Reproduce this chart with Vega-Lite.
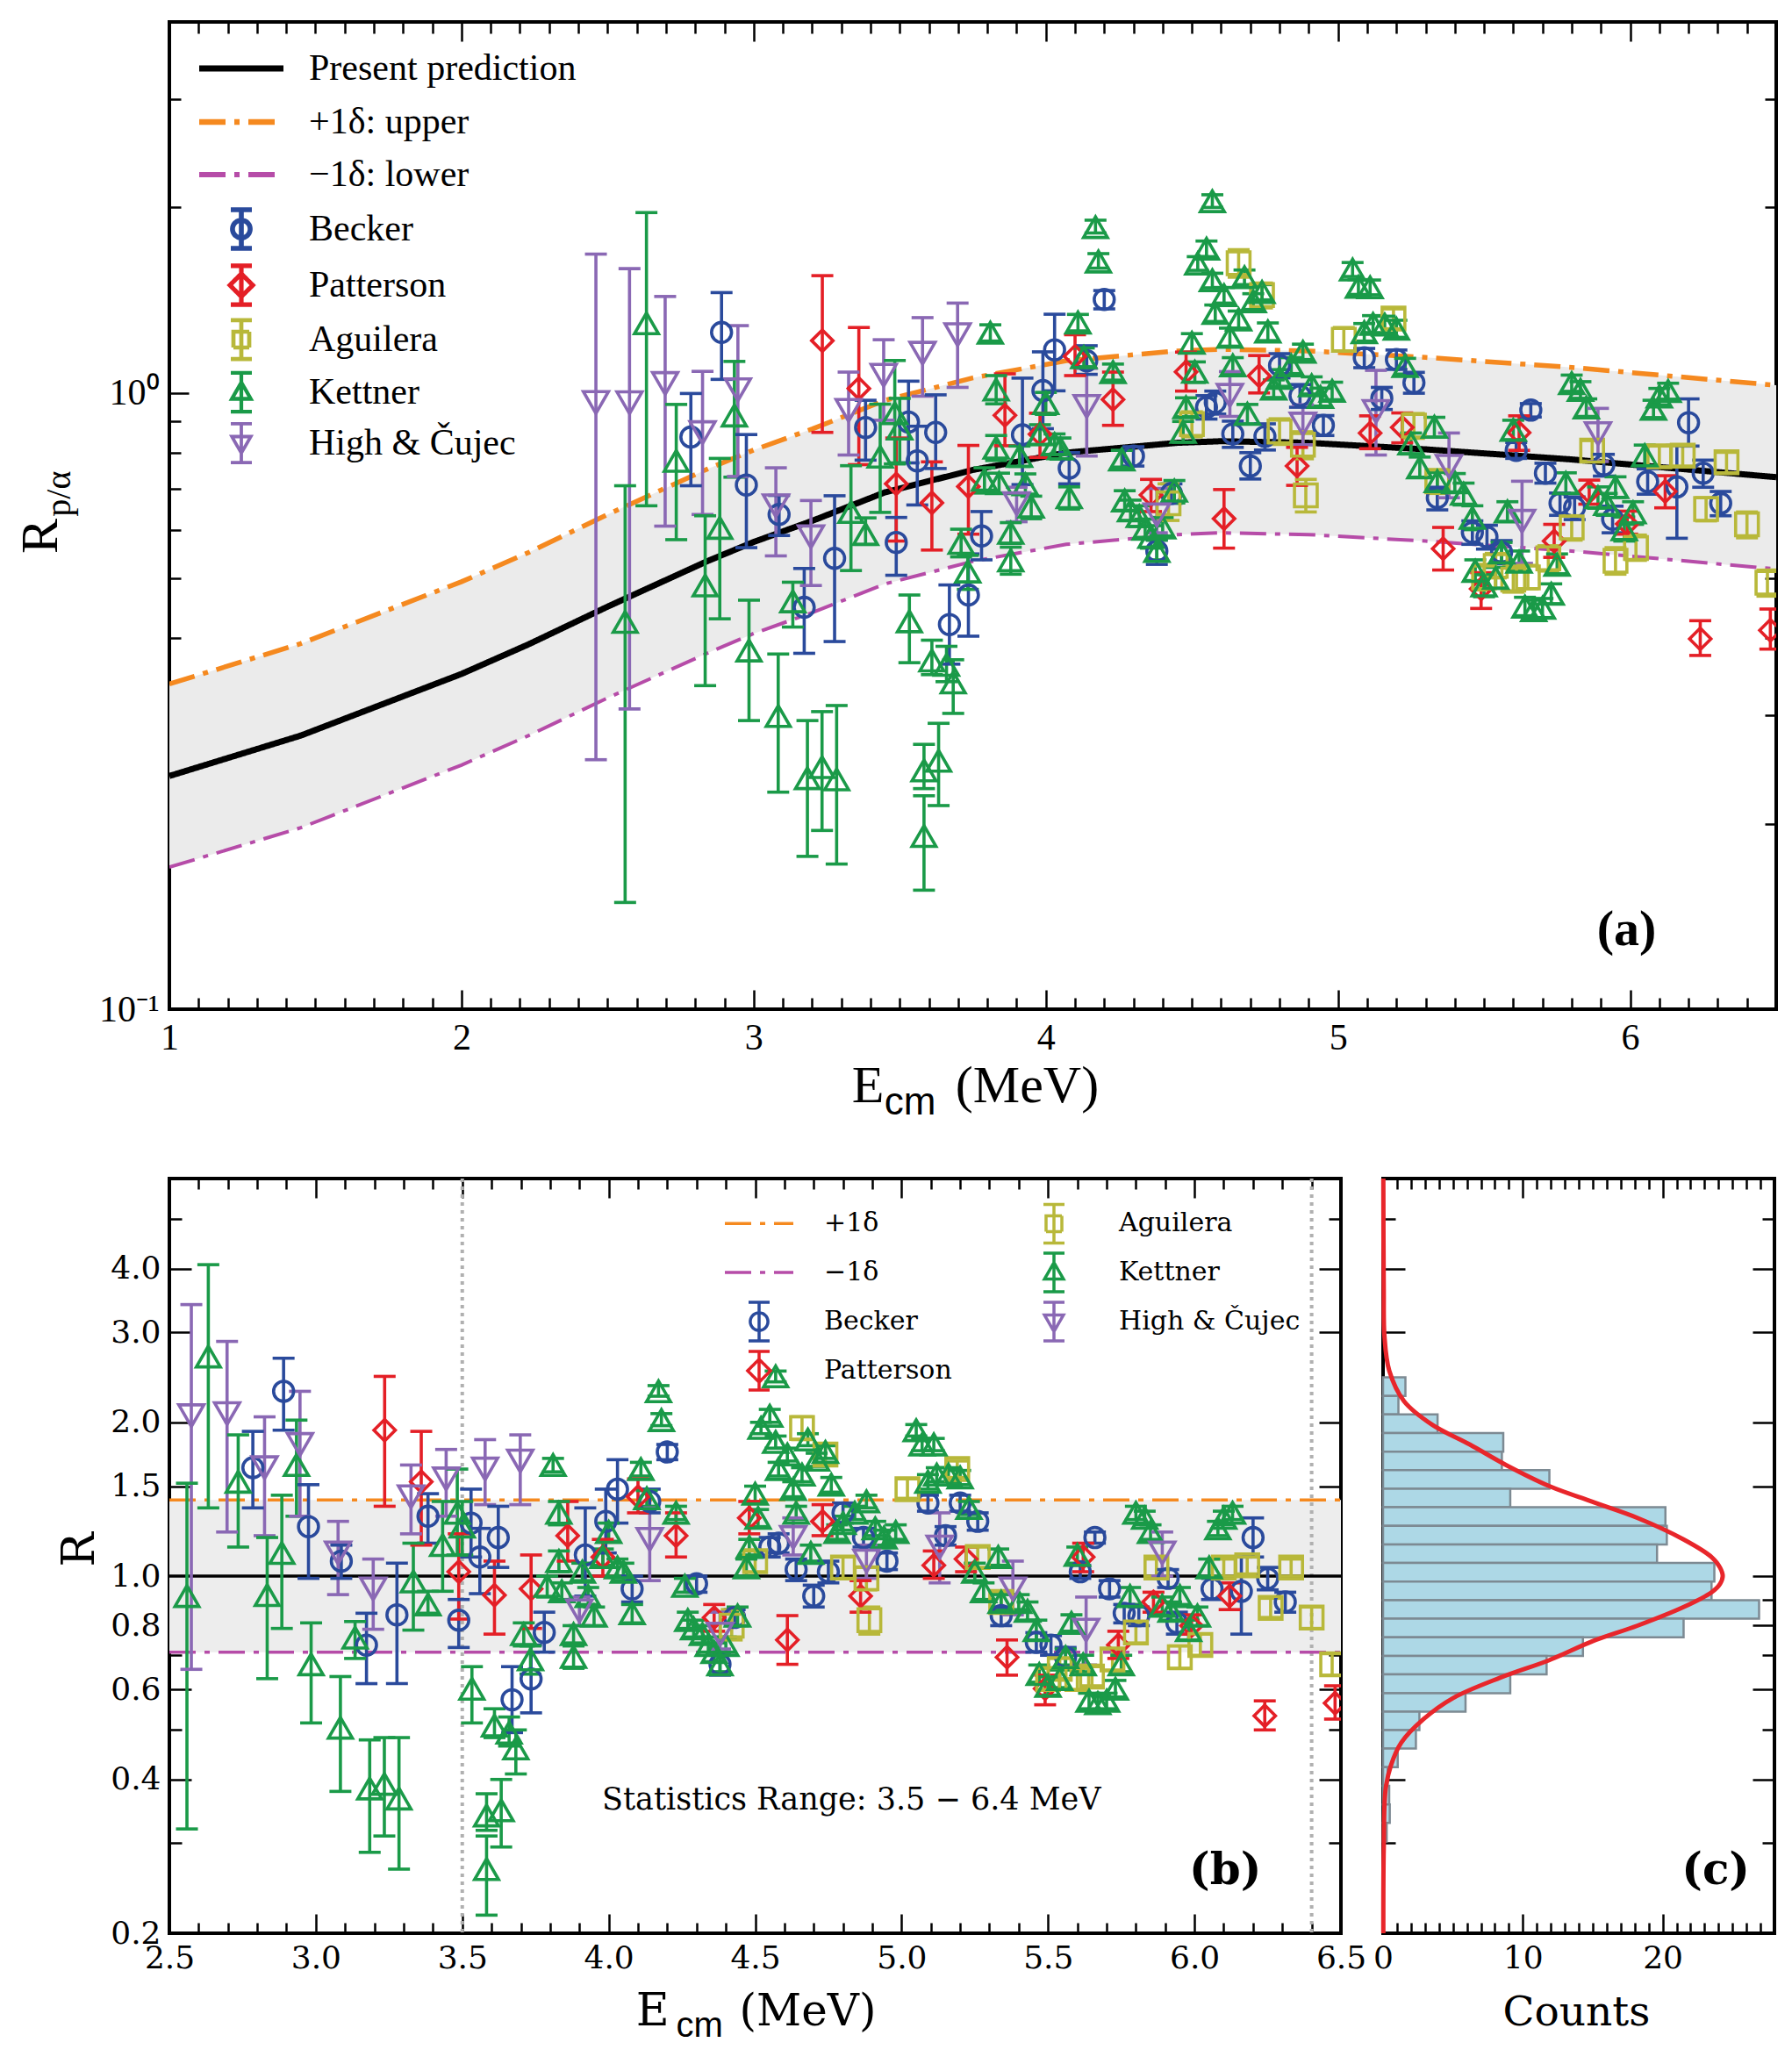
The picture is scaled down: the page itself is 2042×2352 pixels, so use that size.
{
  "$schema": "https://vega.github.io/schema/vega-lite/v6.json",
  "background": "white",
  "padding": {"left": 15, "top": 21, "right": 5, "bottom": 5},
  "bounds": "flush",
  "spacing": 193,
  "config": {"view": {"stroke": "black", "strokeWidth": 4}, "font": "Liberation Serif"},
  "datasets": {
    "legA": [{"k": "Present prediction"}, {"k": "+1δ: upper"}, {"k": "−1δ: lower"}, {"k": "Becker"}, {"k": "Patterson"}, {"k": "Aguilera"}, {"k": "Kettner"}, {"k": "High & Čujec"}],
    "legB": [{"k": "+1δ"}, {"k": "−1δ"}, {"k": "Becker"}, {"k": "Patterson"}, {"k": "Aguilera"}, {"k": "Kettner"}, {"k": "High & Čujec"}],
    "bandA": [
      {"E": 1.0, "lo": 0.170, "hi": 0.337}, {"E": 1.45, "lo": 0.197, "hi": 0.392}, {"E": 2.0, "lo": 0.249, "hi": 0.494},
      {"E": 2.23, "lo": 0.278, "hi": 0.551}, {"E": 2.5, "lo": 0.320, "hi": 0.635}, {"E": 2.84, "lo": 0.378, "hi": 0.752},
      {"E": 3.0, "lo": 0.407, "hi": 0.808}, {"E": 3.2, "lo": 0.440, "hi": 0.874}, {"E": 3.45, "lo": 0.490, "hi": 0.973},
      {"E": 3.75, "lo": 0.533, "hi": 1.058}, {"E": 4.07, "lo": 0.568, "hi": 1.128}, {"E": 4.45, "lo": 0.589, "hi": 1.170},
      {"E": 4.6, "lo": 0.593, "hi": 1.177}, {"E": 4.9, "lo": 0.589, "hi": 1.170}, {"E": 5.3, "lo": 0.575, "hi": 1.142},
      {"E": 5.8, "lo": 0.554, "hi": 1.100}, {"E": 6.5, "lo": 0.518, "hi": 1.029}
    ],
    "linesA": [
      {"s": "Present prediction", "E": 1.0, "y": 0.239}, {"s": "Present prediction", "E": 1.45, "y": 0.278},
      {"s": "Present prediction", "E": 2.0, "y": 0.35}, {"s": "Present prediction", "E": 2.23, "y": 0.391},
      {"s": "Present prediction", "E": 2.5, "y": 0.45}, {"s": "Present prediction", "E": 2.84, "y": 0.533},
      {"s": "Present prediction", "E": 3.0, "y": 0.573}, {"s": "Present prediction", "E": 3.2, "y": 0.62},
      {"s": "Present prediction", "E": 3.45, "y": 0.69}, {"s": "Present prediction", "E": 3.75, "y": 0.75},
      {"s": "Present prediction", "E": 4.07, "y": 0.80}, {"s": "Present prediction", "E": 4.45, "y": 0.83},
      {"s": "Present prediction", "E": 4.6, "y": 0.835}, {"s": "Present prediction", "E": 4.9, "y": 0.83},
      {"s": "Present prediction", "E": 5.3, "y": 0.81}, {"s": "Present prediction", "E": 5.8, "y": 0.78},
      {"s": "Present prediction", "E": 6.5, "y": 0.73},
      {"s": "+1δ: upper", "E": 1.0, "y": 0.337}, {"s": "+1δ: upper", "E": 1.45, "y": 0.392},
      {"s": "+1δ: upper", "E": 2.0, "y": 0.494}, {"s": "+1δ: upper", "E": 2.23, "y": 0.551},
      {"s": "+1δ: upper", "E": 2.5, "y": 0.635}, {"s": "+1δ: upper", "E": 2.84, "y": 0.752},
      {"s": "+1δ: upper", "E": 3.0, "y": 0.808}, {"s": "+1δ: upper", "E": 3.2, "y": 0.874},
      {"s": "+1δ: upper", "E": 3.45, "y": 0.973}, {"s": "+1δ: upper", "E": 3.75, "y": 1.058},
      {"s": "+1δ: upper", "E": 4.07, "y": 1.128}, {"s": "+1δ: upper", "E": 4.45, "y": 1.170},
      {"s": "+1δ: upper", "E": 4.6, "y": 1.177}, {"s": "+1δ: upper", "E": 4.9, "y": 1.170},
      {"s": "+1δ: upper", "E": 5.3, "y": 1.142}, {"s": "+1δ: upper", "E": 5.8, "y": 1.100},
      {"s": "+1δ: upper", "E": 6.5, "y": 1.029},
      {"s": "−1δ: lower", "E": 1.0, "y": 0.170}, {"s": "−1δ: lower", "E": 1.45, "y": 0.197},
      {"s": "−1δ: lower", "E": 2.0, "y": 0.249}, {"s": "−1δ: lower", "E": 2.23, "y": 0.278},
      {"s": "−1δ: lower", "E": 2.5, "y": 0.320}, {"s": "−1δ: lower", "E": 2.84, "y": 0.378},
      {"s": "−1δ: lower", "E": 3.0, "y": 0.407}, {"s": "−1δ: lower", "E": 3.2, "y": 0.440},
      {"s": "−1δ: lower", "E": 3.45, "y": 0.490}, {"s": "−1δ: lower", "E": 3.75, "y": 0.533},
      {"s": "−1δ: lower", "E": 4.07, "y": 0.568}, {"s": "−1δ: lower", "E": 4.45, "y": 0.589},
      {"s": "−1δ: lower", "E": 4.6, "y": 0.593}, {"s": "−1δ: lower", "E": 4.9, "y": 0.589},
      {"s": "−1δ: lower", "E": 5.3, "y": 0.575}, {"s": "−1δ: lower", "E": 5.8, "y": 0.554},
      {"s": "−1δ: lower", "E": 6.5, "y": 0.518}
    ],
    "linesB": [
      {"s": "+1δ", "E": 2.5, "R": 1.41}, {"s": "+1δ", "E": 6.5, "R": 1.41},
      {"s": "−1δ", "E": 2.5, "R": 0.71}, {"s": "−1δ", "E": 6.5, "R": 0.71}
    ],
    "statB": [{"E": 3.5}, {"E": 6.4}],
    "pts": [
      {"s": "Becker", "E": 2.785, "y": 0.848, "yl": 0.707, "yh": 0.998, "R": 1.63, "Rl": 1.36, "Rh": 1.92},
      {"s": "Becker", "E": 2.89, "y": 1.254, "yl": 1.052, "yh": 1.455, "R": 2.30, "Rl": 1.93, "Rh": 2.67},
      {"s": "Becker", "E": 2.975, "y": 0.709, "yl": 0.561, "yh": 0.856, "R": 1.25, "Rl": 0.99, "Rh": 1.51},
      {"s": "Becker", "E": 3.087, "y": 0.635, "yl": 0.587, "yh": 0.682, "R": 1.07, "Rl": 0.99, "Rh": 1.15},
      {"s": "Becker", "E": 3.173, "y": 0.449, "yl": 0.378, "yh": 0.519, "R": 0.733, "Rl": 0.616, "Rh": 0.846},
      {"s": "Becker", "E": 3.277, "y": 0.539, "yl": 0.395, "yh": 0.681, "R": 0.84, "Rl": 0.616, "Rh": 1.06},
      {"s": "Becker", "E": 3.383, "y": 0.879, "yl": 0.778, "yh": 0.973, "R": 1.31, "Rl": 1.16, "Rh": 1.45},
      {"s": "Becker", "E": 3.488, "y": 0.572, "yl": 0.506, "yh": 0.628, "R": 0.82, "Rl": 0.725, "Rh": 0.90},
      {"s": "Becker", "E": 3.53, "y": 0.897, "yl": 0.77, "yh": 1.045, "R": 1.27, "Rl": 1.09, "Rh": 1.48},
      {"s": "Becker", "E": 3.56, "y": 0.776, "yl": 0.658, "yh": 0.883, "R": 1.09, "Rl": 0.924, "Rh": 1.24},
      {"s": "Becker", "E": 3.623, "y": 0.863, "yl": 0.754, "yh": 0.993, "R": 1.19, "Rl": 1.04, "Rh": 1.37},
      {"s": "Becker", "E": 3.67, "y": 0.421, "yl": 0.363, "yh": 0.488, "R": 0.573, "Rl": 0.494, "Rh": 0.665},
      {"s": "Becker", "E": 3.735, "y": 0.47, "yl": 0.403, "yh": 0.548, "R": 0.629, "Rl": 0.54, "Rh": 0.733},
      {"s": "Becker", "E": 3.78, "y": 0.586, "yl": 0.536, "yh": 0.642, "R": 0.776, "Rl": 0.71, "Rh": 0.85},
      {"s": "Becker", "E": 3.92, "y": 0.855, "yl": 0.71, "yh": 1.057, "R": 1.10, "Rl": 0.914, "Rh": 1.36},
      {"s": "Becker", "E": 3.99, "y": 1.009, "yl": 0.875, "yh": 1.166, "R": 1.28, "Rl": 1.11, "Rh": 1.48},
      {"s": "Becker", "E": 4.03, "y": 1.175, "yl": 1.008, "yh": 1.342, "R": 1.48, "Rl": 1.27, "Rh": 1.69},
      {"s": "Becker", "E": 4.08, "y": 0.755, "yl": 0.712, "yh": 0.80, "R": 0.944, "Rl": 0.89, "Rh": 1.0},
      {"s": "Becker", "E": 4.14, "y": 1.128, "yl": 1.072, "yh": 1.193, "R": 1.40, "Rl": 1.33, "Rh": 1.48},
      {"s": "Becker", "E": 4.2, "y": 1.418, "yl": 1.369, "yh": 1.466, "R": 1.75, "Rl": 1.69, "Rh": 1.81},
      {"s": "Becker", "E": 4.3, "y": 0.79, "yl": 0.761, "yh": 0.818, "R": 0.966, "Rl": 0.93, "Rh": 1.0},
      {"s": "Becker", "E": 4.38, "y": 0.554, "yl": 0.527, "yh": 0.577, "R": 0.672, "Rl": 0.64, "Rh": 0.70},
      {"s": "Becker", "E": 4.43, "y": 0.687, "yl": 0.662, "yh": 0.712, "R": 0.83, "Rl": 0.80, "Rh": 0.86},
      {"s": "Becker", "E": 4.55, "y": 0.948, "yl": 0.907, "yh": 0.99, "R": 1.14, "Rl": 1.09, "Rh": 1.19},
      {"s": "Becker", "E": 4.58, "y": 0.965, "yl": 0.924, "yh": 1.007, "R": 1.16, "Rl": 1.11, "Rh": 1.21},
      {"s": "Becker", "E": 4.64, "y": 0.858, "yl": 0.816, "yh": 0.90, "R": 1.03, "Rl": 0.98, "Rh": 1.08},
      {"s": "Becker", "E": 4.7, "y": 0.761, "yl": 0.725, "yh": 0.80, "R": 0.914, "Rl": 0.87, "Rh": 0.96},
      {"s": "Becker", "E": 4.75, "y": 0.85, "yl": 0.808, "yh": 0.891, "R": 1.02, "Rl": 0.97, "Rh": 1.07},
      {"s": "Becker", "E": 4.8, "y": 1.108, "yl": 1.058, "yh": 1.158, "R": 1.33, "Rl": 1.27, "Rh": 1.39},
      {"s": "Becker", "E": 4.87, "y": 0.99, "yl": 0.948, "yh": 1.032, "R": 1.19, "Rl": 1.14, "Rh": 1.24},
      {"s": "Becker", "E": 4.95, "y": 0.886, "yl": 0.853, "yh": 0.919, "R": 1.07, "Rl": 1.03, "Rh": 1.11},
      {"s": "Becker", "E": 5.09, "y": 1.14, "yl": 1.099, "yh": 1.181, "R": 1.39, "Rl": 1.34, "Rh": 1.44},
      {"s": "Becker", "E": 5.15, "y": 0.98, "yl": 0.94, "yh": 1.021, "R": 1.20, "Rl": 1.15, "Rh": 1.25},
      {"s": "Becker", "E": 5.2, "y": 1.133, "yl": 1.092, "yh": 1.174, "R": 1.39, "Rl": 1.34, "Rh": 1.44},
      {"s": "Becker", "E": 5.26, "y": 1.039, "yl": 0.999, "yh": 1.08, "R": 1.28, "Rl": 1.23, "Rh": 1.33},
      {"s": "Becker", "E": 5.34, "y": 0.676, "yl": 0.646, "yh": 0.703, "R": 0.837, "Rl": 0.80, "Rh": 0.87},
      {"s": "Becker", "E": 5.46, "y": 0.594, "yl": 0.568, "yh": 0.62, "R": 0.742, "Rl": 0.71, "Rh": 0.775},
      {"s": "Becker", "E": 5.51, "y": 0.584, "yl": 0.558, "yh": 0.61, "R": 0.733, "Rl": 0.70, "Rh": 0.765},
      {"s": "Becker", "E": 5.56, "y": 0.551, "yl": 0.528, "yh": 0.576, "R": 0.694, "Rl": 0.665, "Rh": 0.725},
      {"s": "Becker", "E": 5.61, "y": 0.807, "yl": 0.783, "yh": 0.831, "R": 1.02, "Rl": 0.99, "Rh": 1.05},
      {"s": "Becker", "E": 5.66, "y": 0.938, "yl": 0.914, "yh": 0.961, "R": 1.19, "Rl": 1.16, "Rh": 1.22},
      {"s": "Becker", "E": 5.71, "y": 0.741, "yl": 0.714, "yh": 0.769, "R": 0.944, "Rl": 0.91, "Rh": 0.98},
      {"s": "Becker", "E": 5.76, "y": 0.662, "yl": 0.633, "yh": 0.688, "R": 0.846, "Rl": 0.81, "Rh": 0.88},
      {"s": "Becker", "E": 5.81, "y": 0.652, "yl": 0.623, "yh": 0.678, "R": 0.837, "Rl": 0.80, "Rh": 0.87},
      {"s": "Becker", "E": 5.91, "y": 0.764, "yl": 0.733, "yh": 0.795, "R": 0.99, "Rl": 0.95, "Rh": 1.03},
      {"s": "Becker", "E": 5.94, "y": 0.624, "yl": 0.593, "yh": 0.655, "R": 0.81, "Rl": 0.77, "Rh": 0.85},
      {"s": "Becker", "E": 6.06, "y": 0.718, "yl": 0.685, "yh": 0.753, "R": 0.944, "Rl": 0.90, "Rh": 0.99},
      {"s": "Becker", "E": 6.16, "y": 0.704, "yl": 0.581, "yh": 0.822, "R": 0.934, "Rl": 0.77, "Rh": 1.09},
      {"s": "Becker", "E": 6.2, "y": 0.895, "yl": 0.82, "yh": 0.978, "R": 1.19, "Rl": 1.09, "Rh": 1.30},
      {"s": "Becker", "E": 6.25, "y": 0.741, "yl": 0.703, "yh": 0.778, "R": 0.99, "Rl": 0.94, "Rh": 1.04},
      {"s": "Becker", "E": 6.31, "y": 0.662, "yl": 0.632, "yh": 0.692, "R": 0.89, "Rl": 0.85, "Rh": 0.93},
      {"s": "Patterson", "E": 3.235, "y": 1.216, "yl": 0.863, "yh": 1.55, "R": 1.93, "Rl": 1.37, "Rh": 2.46},
      {"s": "Patterson", "E": 3.36, "y": 1.017, "yl": 0.765, "yh": 1.277, "R": 1.53, "Rl": 1.15, "Rh": 1.92},
      {"s": "Patterson", "E": 3.488, "y": 0.712, "yl": 0.575, "yh": 0.845, "R": 1.02, "Rl": 0.824, "Rh": 1.21},
      {"s": "Patterson", "E": 3.61, "y": 0.663, "yl": 0.556, "yh": 0.773, "R": 0.918, "Rl": 0.77, "Rh": 1.07},
      {"s": "Patterson", "E": 3.735, "y": 0.705, "yl": 0.59, "yh": 0.822, "R": 0.944, "Rl": 0.79, "Rh": 1.10},
      {"s": "Patterson", "E": 3.86, "y": 0.92, "yl": 0.821, "yh": 1.074, "R": 1.20, "Rl": 1.07, "Rh": 1.40},
      {"s": "Patterson", "E": 3.98, "y": 0.857, "yl": 0.786, "yh": 0.927, "R": 1.09, "Rl": 1.0, "Rh": 1.18},
      {"s": "Patterson", "E": 4.1, "y": 1.147, "yl": 1.067, "yh": 1.243, "R": 1.43, "Rl": 1.33, "Rh": 1.55},
      {"s": "Patterson", "E": 4.23, "y": 0.976, "yl": 0.886, "yh": 1.081, "R": 1.20, "Rl": 1.09, "Rh": 1.33},
      {"s": "Patterson", "E": 4.36, "y": 0.683, "yl": 0.642, "yh": 0.724, "R": 0.83, "Rl": 0.78, "Rh": 0.88},
      {"s": "Patterson", "E": 4.48, "y": 1.082, "yl": 1.007, "yh": 1.165, "R": 1.30, "Rl": 1.21, "Rh": 1.40},
      {"s": "Patterson", "E": 4.61, "y": 0.625, "yl": 0.56, "yh": 0.697, "R": 0.75, "Rl": 0.672, "Rh": 0.837},
      {"s": "Patterson", "E": 4.73, "y": 1.066, "yl": 1.0, "yh": 1.15, "R": 1.28, "Rl": 1.2, "Rh": 1.38},
      {"s": "Patterson", "E": 4.86, "y": 0.761, "yl": 0.708, "yh": 0.816, "R": 0.914, "Rl": 0.85, "Rh": 0.98},
      {"s": "Patterson", "E": 5.11, "y": 0.861, "yl": 0.812, "yh": 0.918, "R": 1.05, "Rl": 0.99, "Rh": 1.12},
      {"s": "Patterson", "E": 5.22, "y": 0.879, "yl": 0.83, "yh": 0.928, "R": 1.08, "Rl": 1.02, "Rh": 1.14},
      {"s": "Patterson", "E": 5.36, "y": 0.559, "yl": 0.516, "yh": 0.605, "R": 0.694, "Rl": 0.64, "Rh": 0.75},
      {"s": "Patterson", "E": 5.49, "y": 0.481, "yl": 0.447, "yh": 0.511, "R": 0.602, "Rl": 0.56, "Rh": 0.64},
      {"s": "Patterson", "E": 5.62, "y": 0.862, "yl": 0.807, "yh": 0.918, "R": 1.09, "Rl": 1.02, "Rh": 1.16},
      {"s": "Patterson", "E": 5.74, "y": 0.575, "yl": 0.541, "yh": 0.612, "R": 0.733, "Rl": 0.69, "Rh": 0.78},
      {"s": "Patterson", "E": 5.86, "y": 0.691, "yl": 0.66, "yh": 0.722, "R": 0.89, "Rl": 0.85, "Rh": 0.93},
      {"s": "Patterson", "E": 5.99, "y": 0.613, "yl": 0.59, "yh": 0.643, "R": 0.80, "Rl": 0.77, "Rh": 0.84},
      {"s": "Patterson", "E": 6.12, "y": 0.692, "yl": 0.651, "yh": 0.734, "R": 0.914, "Rl": 0.86, "Rh": 0.97},
      {"s": "Patterson", "E": 6.24, "y": 0.399, "yl": 0.375, "yh": 0.427, "R": 0.533, "Rl": 0.50, "Rh": 0.57},
      {"s": "Patterson", "E": 6.48, "y": 0.412, "yl": 0.384, "yh": 0.446, "R": 0.564, "Rl": 0.525, "Rh": 0.61},
      {"s": "Aguilera", "E": 4.42, "y": 0.662, "yl": 0.621, "yh": 0.712, "R": 0.80, "Rl": 0.75, "Rh": 0.86},
      {"s": "Aguilera", "E": 4.5, "y": 0.89, "yl": 0.849, "yh": 0.932, "R": 1.07, "Rl": 1.02, "Rh": 1.12},
      {"s": "Aguilera", "E": 4.66, "y": 1.624, "yl": 1.541, "yh": 1.708, "R": 1.95, "Rl": 1.85, "Rh": 2.05},
      {"s": "Aguilera", "E": 4.74, "y": 1.441, "yl": 1.374, "yh": 1.508, "R": 1.73, "Rl": 1.65, "Rh": 1.81},
      {"s": "Aguilera", "E": 4.8, "y": 0.866, "yl": 0.825, "yh": 0.908, "R": 1.04, "Rl": 0.99, "Rh": 1.09},
      {"s": "Aguilera", "E": 4.88, "y": 0.824, "yl": 0.782, "yh": 0.865, "R": 0.99, "Rl": 0.94, "Rh": 1.04},
      {"s": "Aguilera", "E": 4.89, "y": 0.682, "yl": 0.641, "yh": 0.724, "R": 0.82, "Rl": 0.77, "Rh": 0.87},
      {"s": "Aguilera", "E": 5.02, "y": 1.22, "yl": 1.17, "yh": 1.277, "R": 1.48, "Rl": 1.42, "Rh": 1.55},
      {"s": "Aguilera", "E": 5.19, "y": 1.32, "yl": 1.271, "yh": 1.369, "R": 1.62, "Rl": 1.56, "Rh": 1.68},
      {"s": "Aguilera", "E": 5.26, "y": 0.885, "yl": 0.844, "yh": 0.926, "R": 1.09, "Rl": 1.04, "Rh": 1.14},
      {"s": "Aguilera", "E": 5.34, "y": 0.719, "yl": 0.687, "yh": 0.751, "R": 0.89, "Rl": 0.85, "Rh": 0.93},
      {"s": "Aguilera", "E": 5.5, "y": 0.502, "yl": 0.479, "yh": 0.527, "R": 0.629, "Rl": 0.60, "Rh": 0.66},
      {"s": "Aguilera", "E": 5.54, "y": 0.524, "yl": 0.501, "yh": 0.549, "R": 0.658, "Rl": 0.63, "Rh": 0.69},
      {"s": "Aguilera", "E": 5.6, "y": 0.498, "yl": 0.475, "yh": 0.523, "R": 0.629, "Rl": 0.60, "Rh": 0.66},
      {"s": "Aguilera", "E": 5.65, "y": 0.502, "yl": 0.481, "yh": 0.525, "R": 0.636, "Rl": 0.61, "Rh": 0.665},
      {"s": "Aguilera", "E": 5.72, "y": 0.539, "yl": 0.514, "yh": 0.565, "R": 0.687, "Rl": 0.655, "Rh": 0.72},
      {"s": "Aguilera", "E": 5.8, "y": 0.605, "yl": 0.577, "yh": 0.632, "R": 0.776, "Rl": 0.74, "Rh": 0.81},
      {"s": "Aguilera", "E": 5.87, "y": 0.806, "yl": 0.775, "yh": 0.837, "R": 1.04, "Rl": 1.0, "Rh": 1.08},
      {"s": "Aguilera", "E": 5.95, "y": 0.534, "yl": 0.508, "yh": 0.561, "R": 0.694, "Rl": 0.66, "Rh": 0.73},
      {"s": "Aguilera", "E": 6.02, "y": 0.56, "yl": 0.535, "yh": 0.588, "R": 0.733, "Rl": 0.70, "Rh": 0.77},
      {"s": "Aguilera", "E": 6.1, "y": 0.789, "yl": 0.759, "yh": 0.82, "R": 1.04, "Rl": 1.0, "Rh": 1.08},
      {"s": "Aguilera", "E": 6.18, "y": 0.791, "yl": 0.761, "yh": 0.821, "R": 1.05, "Rl": 1.01, "Rh": 1.09},
      {"s": "Aguilera", "E": 6.26, "y": 0.648, "yl": 0.62, "yh": 0.676, "R": 0.867, "Rl": 0.83, "Rh": 0.905},
      {"s": "Aguilera", "E": 6.33, "y": 0.772, "yl": 0.742, "yh": 0.801, "R": 1.04, "Rl": 1.0, "Rh": 1.08},
      {"s": "Aguilera", "E": 6.4, "y": 0.612, "yl": 0.582, "yh": 0.641, "R": 0.83, "Rl": 0.79, "Rh": 0.87},
      {"s": "Aguilera", "E": 6.47, "y": 0.492, "yl": 0.468, "yh": 0.516, "R": 0.672, "Rl": 0.64, "Rh": 0.705},
      {"s": "Kettner", "E": 2.56, "y": 0.425, "yl": 0.149, "yh": 0.707, "R": 0.914, "Rl": 0.32, "Rh": 1.52},
      {"s": "Kettner", "E": 2.633, "y": 1.297, "yl": 0.656, "yh": 1.962, "R": 2.69, "Rl": 1.36, "Rh": 4.07},
      {"s": "Kettner", "E": 2.735, "y": 0.776, "yl": 0.578, "yh": 0.958, "R": 1.53, "Rl": 1.14, "Rh": 1.89},
      {"s": "Kettner", "E": 2.834, "y": 0.487, "yl": 0.335, "yh": 0.632, "R": 0.918, "Rl": 0.63, "Rh": 1.19},
      {"s": "Kettner", "E": 2.884, "y": 0.604, "yl": 0.43, "yh": 0.783, "R": 1.11, "Rl": 0.79, "Rh": 1.44},
      {"s": "Kettner", "E": 2.934, "y": 0.919, "yl": 0.73, "yh": 1.125, "R": 1.65, "Rl": 1.31, "Rh": 2.02},
      {"s": "Kettner", "E": 2.984, "y": 0.382, "yl": 0.294, "yh": 0.461, "R": 0.672, "Rl": 0.516, "Rh": 0.81},
      {"s": "Kettner", "E": 3.084, "y": 0.299, "yl": 0.225, "yh": 0.377, "R": 0.505, "Rl": 0.379, "Rh": 0.636},
      {"s": "Kettner", "E": 3.134, "y": 0.459, "yl": 0.417, "yh": 0.493, "R": 0.758, "Rl": 0.69, "Rh": 0.815},
      {"s": "Kettner", "E": 3.184, "y": 0.237, "yl": 0.177, "yh": 0.294, "R": 0.384, "Rl": 0.288, "Rh": 0.478},
      {"s": "Kettner", "E": 3.234, "y": 0.247, "yl": 0.195, "yh": 0.304, "R": 0.392, "Rl": 0.31, "Rh": 0.483},
      {"s": "Kettner", "E": 3.284, "y": 0.236, "yl": 0.172, "yh": 0.311, "R": 0.367, "Rl": 0.267, "Rh": 0.483},
      {"s": "Kettner", "E": 3.333, "y": 0.641, "yl": 0.515, "yh": 0.762, "R": 0.976, "Rl": 0.784, "Rh": 1.16},
      {"s": "Kettner", "E": 3.383, "y": 0.59, "yl": 0.568, "yh": 0.627, "R": 0.88, "Rl": 0.846, "Rh": 0.934},
      {"s": "Kettner", "E": 3.433, "y": 0.788, "yl": 0.64, "yh": 0.959, "R": 1.15, "Rl": 0.934, "Rh": 1.40},
      {"s": "Kettner", "E": 3.483, "y": 0.927, "yl": 0.767, "yh": 1.129, "R": 1.33, "Rl": 1.10, "Rh": 1.62},
      {"s": "Kettner", "E": 3.50, "y": 0.875, "yl": 0.77, "yh": 0.98, "R": 1.25, "Rl": 1.10, "Rh": 1.40},
      {"s": "Kettner", "E": 3.533, "y": 0.426, "yl": 0.365, "yh": 0.47, "R": 0.602, "Rl": 0.516, "Rh": 0.665},
      {"s": "Kettner", "E": 3.583, "y": 0.244, "yl": 0.228, "yh": 0.269, "R": 0.34, "Rl": 0.318, "Rh": 0.375},
      {"s": "Kettner", "E": 3.583, "y": 0.191, "yl": 0.156, "yh": 0.222, "R": 0.267, "Rl": 0.217, "Rh": 0.31},
      {"s": "Kettner", "E": 3.61, "y": 0.368, "yl": 0.349, "yh": 0.397, "R": 0.51, "Rl": 0.483, "Rh": 0.55},
      {"s": "Kettner", "E": 3.633, "y": 0.253, "yl": 0.214, "yh": 0.291, "R": 0.348, "Rl": 0.295, "Rh": 0.40},
      {"s": "Kettner", "E": 3.66, "y": 0.362, "yl": 0.34, "yh": 0.388, "R": 0.494, "Rl": 0.465, "Rh": 0.53},
      {"s": "Kettner", "E": 3.683, "y": 0.339, "yl": 0.302, "yh": 0.369, "R": 0.46, "Rl": 0.41, "Rh": 0.50},
      {"s": "Kettner", "E": 3.71, "y": 0.571, "yl": 0.542, "yh": 0.601, "R": 0.77, "Rl": 0.73, "Rh": 0.81},
      {"s": "Kettner", "E": 3.733, "y": 0.513, "yl": 0.48, "yh": 0.545, "R": 0.687, "Rl": 0.643, "Rh": 0.73},
      {"s": "Kettner", "E": 3.79, "y": 0.723, "yl": 0.688, "yh": 0.756, "R": 0.957, "Rl": 0.91, "Rh": 1.0},
      {"s": "Kettner", "E": 3.81, "y": 1.252, "yl": 1.214, "yh": 1.29, "R": 1.65, "Rl": 1.6, "Rh": 1.7},
      {"s": "Kettner", "E": 3.83, "y": 1.013, "yl": 0.96, "yh": 1.067, "R": 1.33, "Rl": 1.26, "Rh": 1.40},
      {"s": "Kettner", "E": 3.83, "y": 0.815, "yl": 0.777, "yh": 0.853, "R": 1.07, "Rl": 1.02, "Rh": 1.12},
      {"s": "Kettner", "E": 3.84, "y": 0.714, "yl": 0.688, "yh": 0.741, "R": 0.934, "Rl": 0.90, "Rh": 0.97},
      {"s": "Kettner", "E": 3.88, "y": 0.535, "yl": 0.508, "yh": 0.562, "R": 0.695, "Rl": 0.66, "Rh": 0.73},
      {"s": "Kettner", "E": 3.88, "y": 0.593, "yl": 0.57, "yh": 0.616, "R": 0.77, "Rl": 0.74, "Rh": 0.80},
      {"s": "Kettner", "E": 3.91, "y": 0.79, "yl": 0.76, "yh": 0.82, "R": 1.02, "Rl": 0.98, "Rh": 1.06},
      {"s": "Kettner", "E": 3.93, "y": 0.711, "yl": 0.685, "yh": 0.739, "R": 0.914, "Rl": 0.88, "Rh": 0.95},
      {"s": "Kettner", "E": 3.95, "y": 0.654, "yl": 0.625, "yh": 0.68, "R": 0.837, "Rl": 0.80, "Rh": 0.87},
      {"s": "Kettner", "E": 3.98, "y": 0.857, "yl": 0.825, "yh": 0.888, "R": 1.09, "Rl": 1.05, "Rh": 1.13},
      {"s": "Kettner", "E": 4.0, "y": 0.963, "yl": 0.923, "yh": 1.002, "R": 1.22, "Rl": 1.17, "Rh": 1.27},
      {"s": "Kettner", "E": 4.03, "y": 0.826, "yl": 0.794, "yh": 0.858, "R": 1.04, "Rl": 1.0, "Rh": 1.08},
      {"s": "Kettner", "E": 4.05, "y": 0.813, "yl": 0.781, "yh": 0.845, "R": 1.02, "Rl": 0.98, "Rh": 1.06},
      {"s": "Kettner", "E": 4.08, "y": 0.677, "yl": 0.648, "yh": 0.704, "R": 0.846, "Rl": 0.81, "Rh": 0.88},
      {"s": "Kettner", "E": 4.11, "y": 1.301, "yl": 1.261, "yh": 1.341, "R": 1.62, "Rl": 1.57, "Rh": 1.67},
      {"s": "Kettner", "E": 4.13, "y": 1.143, "yl": 1.103, "yh": 1.183, "R": 1.42, "Rl": 1.37, "Rh": 1.47},
      {"s": "Kettner", "E": 4.17, "y": 1.858, "yl": 1.818, "yh": 1.907, "R": 2.30, "Rl": 2.25, "Rh": 2.36},
      {"s": "Kettner", "E": 4.18, "y": 1.634, "yl": 1.594, "yh": 1.683, "R": 2.02, "Rl": 1.97, "Rh": 2.08},
      {"s": "Kettner", "E": 4.23, "y": 1.081, "yl": 1.049, "yh": 1.114, "R": 1.33, "Rl": 1.29, "Rh": 1.37},
      {"s": "Kettner", "E": 4.26, "y": 0.78, "yl": 0.758, "yh": 0.807, "R": 0.957, "Rl": 0.93, "Rh": 0.99},
      {"s": "Kettner", "E": 4.27, "y": 0.669, "yl": 0.645, "yh": 0.694, "R": 0.82, "Rl": 0.79, "Rh": 0.85},
      {"s": "Kettner", "E": 4.29, "y": 0.645, "yl": 0.621, "yh": 0.67, "R": 0.79, "Rl": 0.76, "Rh": 0.82},
      {"s": "Kettner", "E": 4.32, "y": 0.631, "yl": 0.607, "yh": 0.656, "R": 0.77, "Rl": 0.74, "Rh": 0.80},
      {"s": "Kettner", "E": 4.34, "y": 0.602, "yl": 0.583, "yh": 0.624, "R": 0.733, "Rl": 0.71, "Rh": 0.76},
      {"s": "Kettner", "E": 4.36, "y": 0.584, "yl": 0.56, "yh": 0.609, "R": 0.71, "Rl": 0.68, "Rh": 0.74},
      {"s": "Kettner", "E": 4.38, "y": 0.554, "yl": 0.536, "yh": 0.577, "R": 0.672, "Rl": 0.65, "Rh": 0.70},
      {"s": "Kettner", "E": 4.4, "y": 0.605, "yl": 0.586, "yh": 0.628, "R": 0.733, "Rl": 0.71, "Rh": 0.76},
      {"s": "Kettner", "E": 4.44, "y": 0.694, "yl": 0.663, "yh": 0.721, "R": 0.837, "Rl": 0.80, "Rh": 0.87},
      {"s": "Kettner", "E": 4.47, "y": 0.865, "yl": 0.832, "yh": 0.899, "R": 1.04, "Rl": 1.0, "Rh": 1.08},
      {"s": "Kettner", "E": 4.48, "y": 0.948, "yl": 0.915, "yh": 0.982, "R": 1.14, "Rl": 1.1, "Rh": 1.18},
      {"s": "Kettner", "E": 4.5, "y": 1.206, "yl": 1.165, "yh": 1.248, "R": 1.45, "Rl": 1.4, "Rh": 1.5},
      {"s": "Kettner", "E": 4.51, "y": 1.082, "yl": 1.04, "yh": 1.123, "R": 1.30, "Rl": 1.25, "Rh": 1.35},
      {"s": "Kettner", "E": 4.52, "y": 1.622, "yl": 1.581, "yh": 1.664, "R": 1.95, "Rl": 1.9, "Rh": 2.0},
      {"s": "Kettner", "E": 4.55, "y": 1.714, "yl": 1.664, "yh": 1.764, "R": 2.06, "Rl": 2.0, "Rh": 2.12},
      {"s": "Kettner", "E": 4.57, "y": 2.047, "yl": 2.0, "yh": 2.097, "R": 2.46, "Rl": 2.4, "Rh": 2.52},
      {"s": "Kettner", "E": 4.57, "y": 1.523, "yl": 1.481, "yh": 1.564, "R": 1.83, "Rl": 1.78, "Rh": 1.88},
      {"s": "Kettner", "E": 4.58, "y": 1.348, "yl": 1.306, "yh": 1.389, "R": 1.62, "Rl": 1.57, "Rh": 1.67},
      {"s": "Kettner", "E": 4.61, "y": 1.441, "yl": 1.399, "yh": 1.483, "R": 1.73, "Rl": 1.68, "Rh": 1.78},
      {"s": "Kettner", "E": 4.63, "y": 1.233, "yl": 1.191, "yh": 1.274, "R": 1.48, "Rl": 1.43, "Rh": 1.53},
      {"s": "Kettner", "E": 4.64, "y": 1.108, "yl": 1.075, "yh": 1.141, "R": 1.33, "Rl": 1.29, "Rh": 1.37},
      {"s": "Kettner", "E": 4.66, "y": 1.316, "yl": 1.274, "yh": 1.358, "R": 1.58, "Rl": 1.53, "Rh": 1.63},
      {"s": "Kettner", "E": 4.68, "y": 1.541, "yl": 1.499, "yh": 1.583, "R": 1.85, "Rl": 1.8, "Rh": 1.9},
      {"s": "Kettner", "E": 4.69, "y": 0.925, "yl": 0.891, "yh": 0.958, "R": 1.11, "Rl": 1.07, "Rh": 1.15},
      {"s": "Kettner", "E": 4.71, "y": 1.408, "yl": 1.366, "yh": 1.449, "R": 1.69, "Rl": 1.64, "Rh": 1.74},
      {"s": "Kettner", "E": 4.74, "y": 1.458, "yl": 1.416, "yh": 1.499, "R": 1.75, "Rl": 1.7, "Rh": 1.8},
      {"s": "Kettner", "E": 4.76, "y": 1.258, "yl": 1.216, "yh": 1.299, "R": 1.51, "Rl": 1.46, "Rh": 1.56},
      {"s": "Kettner", "E": 4.78, "y": 1.016, "yl": 0.983, "yh": 1.05, "R": 1.22, "Rl": 1.18, "Rh": 1.26},
      {"s": "Kettner", "E": 4.8, "y": 1.058, "yl": 1.025, "yh": 1.091, "R": 1.27, "Rl": 1.23, "Rh": 1.31},
      {"s": "Kettner", "E": 4.84, "y": 1.108, "yl": 1.075, "yh": 1.141, "R": 1.33, "Rl": 1.29, "Rh": 1.37},
      {"s": "Kettner", "E": 4.88, "y": 1.166, "yl": 1.133, "yh": 1.2, "R": 1.40, "Rl": 1.36, "Rh": 1.44},
      {"s": "Kettner", "E": 4.91, "y": 1.029, "yl": 0.996, "yh": 1.062, "R": 1.24, "Rl": 1.2, "Rh": 1.28},
      {"s": "Kettner", "E": 4.94, "y": 0.985, "yl": 0.952, "yh": 1.018, "R": 1.19, "Rl": 1.15, "Rh": 1.23},
      {"s": "Kettner", "E": 4.98, "y": 1.008, "yl": 0.975, "yh": 1.041, "R": 1.22, "Rl": 1.18, "Rh": 1.26},
      {"s": "Kettner", "E": 5.05, "y": 1.586, "yl": 1.545, "yh": 1.628, "R": 1.93, "Rl": 1.88, "Rh": 1.98},
      {"s": "Kettner", "E": 5.07, "y": 1.486, "yl": 1.445, "yh": 1.527, "R": 1.81, "Rl": 1.76, "Rh": 1.86},
      {"s": "Kettner", "E": 5.09, "y": 1.255, "yl": 1.214, "yh": 1.296, "R": 1.53, "Rl": 1.48, "Rh": 1.58},
      {"s": "Kettner", "E": 5.11, "y": 1.484, "yl": 1.443, "yh": 1.525, "R": 1.81, "Rl": 1.76, "Rh": 1.86},
      {"s": "Kettner", "E": 5.12, "y": 1.294, "yl": 1.253, "yh": 1.335, "R": 1.58, "Rl": 1.53, "Rh": 1.63},
      {"s": "Kettner", "E": 5.16, "y": 1.291, "yl": 1.25, "yh": 1.332, "R": 1.58, "Rl": 1.53, "Rh": 1.63},
      {"s": "Kettner", "E": 5.2, "y": 1.271, "yl": 1.231, "yh": 1.312, "R": 1.56, "Rl": 1.51, "Rh": 1.61},
      {"s": "Kettner", "E": 5.23, "y": 1.106, "yl": 1.073, "yh": 1.138, "R": 1.36, "Rl": 1.32, "Rh": 1.40},
      {"s": "Kettner", "E": 5.25, "y": 0.828, "yl": 0.796, "yh": 0.861, "R": 1.02, "Rl": 0.98, "Rh": 1.06},
      {"s": "Kettner", "E": 5.28, "y": 0.757, "yl": 0.73, "yh": 0.787, "R": 0.934, "Rl": 0.90, "Rh": 0.97},
      {"s": "Kettner", "E": 5.33, "y": 0.881, "yl": 0.848, "yh": 0.913, "R": 1.09, "Rl": 1.05, "Rh": 1.13},
      {"s": "Kettner", "E": 5.34, "y": 0.719, "yl": 0.695, "yh": 0.743, "R": 0.89, "Rl": 0.86, "Rh": 0.92},
      {"s": "Kettner", "E": 5.4, "y": 0.716, "yl": 0.691, "yh": 0.74, "R": 0.89, "Rl": 0.86, "Rh": 0.92},
      {"s": "Kettner", "E": 5.43, "y": 0.686, "yl": 0.658, "yh": 0.714, "R": 0.855, "Rl": 0.82, "Rh": 0.89},
      {"s": "Kettner", "E": 5.46, "y": 0.627, "yl": 0.60, "yh": 0.656, "R": 0.784, "Rl": 0.75, "Rh": 0.82},
      {"s": "Kettner", "E": 5.47, "y": 0.514, "yl": 0.496, "yh": 0.536, "R": 0.643, "Rl": 0.62, "Rh": 0.67},
      {"s": "Kettner", "E": 5.5, "y": 0.487, "yl": 0.467, "yh": 0.507, "R": 0.61, "Rl": 0.585, "Rh": 0.635},
      {"s": "Kettner", "E": 5.54, "y": 0.501, "yl": 0.482, "yh": 0.521, "R": 0.629, "Rl": 0.605, "Rh": 0.655},
      {"s": "Kettner", "E": 5.56, "y": 0.551, "yl": 0.532, "yh": 0.572, "R": 0.694, "Rl": 0.67, "Rh": 0.72},
      {"s": "Kettner", "E": 5.58, "y": 0.642, "yl": 0.619, "yh": 0.666, "R": 0.81, "Rl": 0.78, "Rh": 0.84},
      {"s": "Kettner", "E": 5.6, "y": 0.871, "yl": 0.84, "yh": 0.903, "R": 1.10, "Rl": 1.06, "Rh": 1.14},
      {"s": "Kettner", "E": 5.62, "y": 0.532, "yl": 0.514, "yh": 0.554, "R": 0.672, "Rl": 0.65, "Rh": 0.70},
      {"s": "Kettner", "E": 5.64, "y": 0.45, "yl": 0.435, "yh": 0.466, "R": 0.57, "Rl": 0.55, "Rh": 0.59},
      {"s": "Kettner", "E": 5.67, "y": 0.444, "yl": 0.429, "yh": 0.461, "R": 0.564, "Rl": 0.545, "Rh": 0.585},
      {"s": "Kettner", "E": 5.7, "y": 0.448, "yl": 0.432, "yh": 0.464, "R": 0.57, "Rl": 0.55, "Rh": 0.59},
      {"s": "Kettner", "E": 5.73, "y": 0.472, "yl": 0.455, "yh": 0.49, "R": 0.602, "Rl": 0.58, "Rh": 0.625},
      {"s": "Kettner", "E": 5.75, "y": 0.526, "yl": 0.509, "yh": 0.548, "R": 0.672, "Rl": 0.65, "Rh": 0.70},
      {"s": "Kettner", "E": 5.78, "y": 0.714, "yl": 0.687, "yh": 0.742, "R": 0.914, "Rl": 0.88, "Rh": 0.95},
      {"s": "Kettner", "E": 5.8, "y": 1.037, "yl": 1.006, "yh": 1.069, "R": 1.33, "Rl": 1.29, "Rh": 1.37},
      {"s": "Kettner", "E": 5.83, "y": 1.011, "yl": 0.98, "yh": 1.043, "R": 1.30, "Rl": 1.26, "Rh": 1.34},
      {"s": "Kettner", "E": 5.85, "y": 0.947, "yl": 0.916, "yh": 0.978, "R": 1.22, "Rl": 1.18, "Rh": 1.26},
      {"s": "Kettner", "E": 5.89, "y": 0.677, "yl": 0.65, "yh": 0.704, "R": 0.875, "Rl": 0.84, "Rh": 0.91},
      {"s": "Kettner", "E": 5.92, "y": 0.66, "yl": 0.633, "yh": 0.687, "R": 0.855, "Rl": 0.82, "Rh": 0.89},
      {"s": "Kettner", "E": 5.95, "y": 0.703, "yl": 0.677, "yh": 0.731, "R": 0.914, "Rl": 0.88, "Rh": 0.95},
      {"s": "Kettner", "E": 5.98, "y": 0.601, "yl": 0.575, "yh": 0.629, "R": 0.784, "Rl": 0.75, "Rh": 0.82},
      {"s": "Kettner", "E": 6.01, "y": 0.64, "yl": 0.612, "yh": 0.666, "R": 0.837, "Rl": 0.80, "Rh": 0.87},
      {"s": "Kettner", "E": 6.05, "y": 0.792, "yl": 0.762, "yh": 0.823, "R": 1.04, "Rl": 1.0, "Rh": 1.08},
      {"s": "Kettner", "E": 6.08, "y": 0.942, "yl": 0.912, "yh": 0.973, "R": 1.24, "Rl": 1.2, "Rh": 1.28},
      {"s": "Kettner", "E": 6.1, "y": 0.987, "yl": 0.956, "yh": 1.017, "R": 1.30, "Rl": 1.26, "Rh": 1.34},
      {"s": "Kettner", "E": 6.13, "y": 1.007, "yl": 0.977, "yh": 1.037, "R": 1.33, "Rl": 1.29, "Rh": 1.37},
      {"s": "High & Čujec", "E": 2.46, "y": 0.965, "yl": 0.254, "yh": 1.68},
      {"s": "High & Čujec", "E": 2.575, "y": 0.964, "yl": 0.307, "yh": 1.591, "R": 2.06, "Rl": 0.657, "Rh": 3.40},
      {"s": "High & Čujec", "E": 2.697, "y": 1.036, "yl": 0.608, "yh": 1.434, "R": 2.08, "Rl": 1.22, "Rh": 2.88},
      {"s": "High & Čujec", "E": 2.825, "y": 0.862, "yl": 0.635, "yh": 1.084, "R": 1.63, "Rl": 1.20, "Rh": 2.05},
      {"s": "High & Čujec", "E": 2.946, "y": 1.012, "yl": 0.732, "yh": 1.286, "R": 1.81, "Rl": 1.31, "Rh": 2.30},
      {"s": "High & Čujec", "E": 3.076, "y": 0.656, "yl": 0.544, "yh": 0.756, "R": 1.11, "Rl": 0.92, "Rh": 1.28},
      {"s": "High & Čujec", "E": 3.196, "y": 0.584, "yl": 0.487, "yh": 0.669, "R": 0.944, "Rl": 0.787, "Rh": 1.08},
      {"s": "High & Čujec", "E": 3.325, "y": 0.937, "yl": 0.793, "yh": 1.081, "R": 1.43, "Rl": 1.21, "Rh": 1.65},
      {"s": "High & Čujec", "E": 3.445, "y": 1.068, "yl": 0.903, "yh": 1.22, "R": 1.55, "Rl": 1.31, "Rh": 1.77},
      {"s": "High & Čujec", "E": 3.578, "y": 1.16, "yl": 0.988, "yh": 1.325, "R": 1.62, "Rl": 1.38, "Rh": 1.85},
      {"s": "High & Čujec", "E": 3.698, "y": 1.243, "yl": 1.021, "yh": 1.399, "R": 1.68, "Rl": 1.38, "Rh": 1.89},
      {"s": "High & Čujec", "E": 3.9, "y": 0.661, "yl": 0.618, "yh": 0.703, "R": 0.855, "Rl": 0.80, "Rh": 0.91},
      {"s": "High & Čujec", "E": 4.14, "y": 0.951, "yl": 0.79, "yh": 1.096, "R": 1.18, "Rl": 0.98, "Rh": 1.36},
      {"s": "High & Čujec", "E": 4.38, "y": 0.634, "yl": 0.593, "yh": 0.70, "R": 0.77, "Rl": 0.72, "Rh": 0.85},
      {"s": "High & Čujec", "E": 4.63, "y": 0.991, "yl": 0.916, "yh": 1.083, "R": 1.19, "Rl": 1.1, "Rh": 1.3},
      {"s": "High & Čujec", "E": 4.88, "y": 0.89, "yl": 0.824, "yh": 0.957, "R": 1.07, "Rl": 0.99, "Rh": 1.15},
      {"s": "High & Čujec", "E": 5.13, "y": 0.933, "yl": 0.793, "yh": 1.088, "R": 1.14, "Rl": 0.97, "Rh": 1.33},
      {"s": "High & Čujec", "E": 5.38, "y": 0.76, "yl": 0.676, "yh": 0.861, "R": 0.944, "Rl": 0.84, "Rh": 1.07},
      {"s": "High & Čujec", "E": 5.63, "y": 0.619, "yl": 0.529, "yh": 0.719, "R": 0.784, "Rl": 0.67, "Rh": 0.91},
      {"s": "High & Čujec", "E": 5.89, "y": 0.859, "yl": 0.774, "yh": 0.944, "R": 1.11, "Rl": 1.0, "Rh": 1.22}
    ],
    "hist": [
      {"lo": 2.253, "hi": 2.449, "n": 1.6}, {"lo": 2.072, "hi": 2.253, "n": 1.1}, {"lo": 1.905, "hi": 2.072, "n": 3.9},
      {"lo": 1.752, "hi": 1.905, "n": 8.6}, {"lo": 1.612, "hi": 1.752, "n": 8.5}, {"lo": 1.483, "hi": 1.612, "n": 11.9},
      {"lo": 1.364, "hi": 1.483, "n": 9.1}, {"lo": 1.254, "hi": 1.364, "n": 20.2}, {"lo": 1.153, "hi": 1.254, "n": 20.3},
      {"lo": 1.061, "hi": 1.153, "n": 19.6}, {"lo": 0.976, "hi": 1.061, "n": 23.7}, {"lo": 0.897, "hi": 0.976, "n": 23.5},
      {"lo": 0.826, "hi": 0.897, "n": 26.9}, {"lo": 0.759, "hi": 0.826, "n": 21.5}, {"lo": 0.698, "hi": 0.759, "n": 14.3},
      {"lo": 0.642, "hi": 0.698, "n": 11.7}, {"lo": 0.590, "hi": 0.642, "n": 9.1}, {"lo": 0.543, "hi": 0.590, "n": 5.9},
      {"lo": 0.4995, "hi": 0.543, "n": 2.6}, {"lo": 0.4596, "hi": 0.4995, "n": 2.35}, {"lo": 0.4227, "hi": 0.4596, "n": 1.05},
      {"lo": 0.3888, "hi": 0.4227, "n": 0.33}, {"lo": 0.3575, "hi": 0.3888, "n": 0.44}, {"lo": 0.3289, "hi": 0.3575, "n": 0.48},
      {"lo": 0.3025, "hi": 0.3289, "n": 0.26}
    ],
    "gaus": [
      {"R": 6.0, "c": 0.02}, {"R": 3.65, "c": 0.05}, {"R": 2.95, "c": 0.1}, {"R": 2.52, "c": 0.45}, {"R": 2.2, "c": 1.5},
      {"R": 1.98, "c": 3.5}, {"R": 1.81, "c": 6.2}, {"R": 1.65, "c": 8.8}, {"R": 1.5, "c": 11.9}, {"R": 1.4, "c": 14.9},
      {"R": 1.3, "c": 18.2}, {"R": 1.18, "c": 21.5}, {"R": 1.09, "c": 23.5}, {"R": 1.04, "c": 24.1}, {"R": 1.0, "c": 24.3},
      {"R": 0.965, "c": 24.1}, {"R": 0.93, "c": 23.5}, {"R": 0.87, "c": 21.5}, {"R": 0.8, "c": 18.2}, {"R": 0.746, "c": 15.0},
      {"R": 0.685, "c": 11.9}, {"R": 0.633, "c": 8.4}, {"R": 0.577, "c": 5.0}, {"R": 0.525, "c": 2.9}, {"R": 0.472, "c": 1.3},
      {"R": 0.425, "c": 0.55}, {"R": 0.382, "c": 0.18}, {"R": 0.293, "c": 0.05}, {"R": 0.2, "c": 0.02}
    ]
  },
  "vconcat": [
    {
      "width": 1831,
      "height": 1125,
      "layer": [
        {
          "data": {"name": "bandA"},
          "mark": {"type": "area", "color": "#ebebeb", "clip": true},
          "encoding": {
            "x": {"field": "E", "type": "quantitative", "scale": {"domain": [1, 6.5], "nice": false, "zero": false},
              "axis": {"orient": "bottom", "values": [1, 2, 3, 4, 5, 6], "format": "d", "ticks": false, "domain": false, "grid": false, "title": null, "labelFont": "Liberation Serif", "labelFontSize": 42, "labelPadding": 12, "labelColor": "black", "labelFlush": false, "labelOverlap": false}},
            "y": {"field": "lo", "type": "quantitative", "scale": {"type": "log", "domain": [0.1, 4], "nice": false},
              "axis": {"orient": "left", "values": [0.1, 1], "labelExpr": "datum.value < 0.5 ? '10⁻¹' : '10⁰'", "ticks": false, "domain": false, "grid": false, "title": null, "labelFont": "Liberation Serif", "labelFontSize": 42, "labelPadding": 12, "labelColor": "black", "labelFlush": false, "labelOverlap": false}},
            "y2": {"field": "hi"}
          }
        },
        {
          "data": {"name": "linesA"},
          "mark": {"type": "line", "clip": true},
          "encoding": {
            "x": {"field": "E", "type": "quantitative",
              "axis": {"orient": "top", "offset": -1125, "values": [1,1.1,1.2,1.3,1.4,1.5,1.6,1.7,1.8,1.9,2,2.1,2.2,2.3,2.4,2.5,2.6,2.7,2.8,2.9,3,3.1,3.2,3.3,3.4,3.5,3.6,3.7,3.8,3.9,4,4.1,4.2,4.3,4.4,4.5,4.6,4.7,4.8,4.9,5,5.1,5.2,5.3,5.4,5.5,5.6,5.7,5.8,5.9,6,6.1,6.2,6.3,6.4,6.5], "labels": false, "domain": false, "grid": false, "title": null, "tickColor": "black", "tickWidth": 2.5, "tickSize": {"condition": {"test": "datum.value % 1 === 0", "value": 22}, "value": 13}}},
            "y": {"field": "y", "type": "quantitative",
              "axis": {"orient": "right", "offset": -1831, "values": [0.1,0.2,0.3,0.4,0.5,0.6,0.7,0.8,0.9,1,2,3,4], "labels": false, "domain": false, "grid": false, "title": null, "tickColor": "black", "tickWidth": 2.5, "tickSize": {"condition": {"test": "datum.value === 0.1 || datum.value === 1", "value": 22}, "value": 13}}},
            "color": {"field": "s", "type": "nominal", "scale": {"domain": ["Present prediction", "+1δ: upper", "−1δ: lower"], "range": ["#000000", "#f5891f", "#b64ca8"]}, "legend": null},
            "strokeWidth": {"field": "s", "type": "nominal", "scale": {"domain": ["Present prediction", "+1δ: upper", "−1δ: lower"], "range": [7, 4, 4]}, "legend": null},
            "strokeDash": {"field": "s", "type": "nominal", "scale": {"domain": ["Present prediction", "+1δ: upper", "−1δ: lower"], "range": [[1, 0], [30, 10, 6, 10], [30, 10, 6, 10]]}, "legend": null}
          }
        },
        {
          "data": {"name": "pts"},
          "mark": {"type": "rule", "strokeWidth": 3.6, "clip": true},
          "encoding": {
            "x": {"field": "E", "type": "quantitative",
              "axis": {"orient": "bottom", "offset": -1125, "values": [1,1.1,1.2,1.3,1.4,1.5,1.6,1.7,1.8,1.9,2,2.1,2.2,2.3,2.4,2.5,2.6,2.7,2.8,2.9,3,3.1,3.2,3.3,3.4,3.5,3.6,3.7,3.8,3.9,4,4.1,4.2,4.3,4.4,4.5,4.6,4.7,4.8,4.9,5,5.1,5.2,5.3,5.4,5.5,5.6,5.7,5.8,5.9,6,6.1,6.2,6.3,6.4,6.5], "labels": false, "domain": false, "grid": false, "title": null, "tickColor": "black", "tickWidth": 2.5, "tickSize": {"condition": {"test": "datum.value % 1 === 0", "value": 22}, "value": 13}}},
            "y": {"field": "yl", "type": "quantitative",
              "axis": {"orient": "left", "offset": -1831, "values": [0.1,0.2,0.3,0.4,0.5,0.6,0.7,0.8,0.9,1,2,3,4], "labels": false, "domain": false, "grid": false, "title": null, "tickColor": "black", "tickWidth": 2.5, "tickSize": {"condition": {"test": "datum.value === 0.1 || datum.value === 1", "value": 22}, "value": 13}}},
            "y2": {"field": "yh"},
            "color": {"field": "s", "type": "nominal", "scale": {"domain": ["Becker", "Patterson", "Aguilera", "Kettner", "High & Čujec"], "range": ["#2a4a9c", "#e41f26", "#b8b83a", "#1a9a48", "#8a68b4"]}, "legend": null}
          }
        },
        {
          "data": {"name": "pts"},
          "mark": {"type": "tick", "orient": "horizontal", "size": 25, "thickness": 3.6, "opacity": 1, "clip": true},
          "encoding": {
            "x": {"field": "E", "type": "quantitative", "axis": null},
            "y": {"field": "yl", "type": "quantitative", "axis": null},
            "color": {"field": "s", "type": "nominal", "scale": {"domain": ["Becker", "Patterson", "Aguilera", "Kettner", "High & Čujec"], "range": ["#2a4a9c", "#e41f26", "#b8b83a", "#1a9a48", "#8a68b4"]}, "legend": null}
          }
        },
        {
          "data": {"name": "pts"},
          "mark": {"type": "tick", "orient": "horizontal", "size": 25, "thickness": 3.6, "opacity": 1, "clip": true},
          "encoding": {
            "x": {"field": "E", "type": "quantitative", "axis": null},
            "y": {"field": "yh", "type": "quantitative", "axis": null},
            "color": {"field": "s", "type": "nominal", "scale": {"domain": ["Becker", "Patterson", "Aguilera", "Kettner", "High & Čujec"], "range": ["#2a4a9c", "#e41f26", "#b8b83a", "#1a9a48", "#8a68b4"]}, "legend": null}
          }
        },
        {
          "data": {"name": "pts"},
          "mark": {"type": "point", "filled": false, "strokeWidth": 3.6, "opacity": 1, "clip": true},
          "encoding": {
            "x": {"field": "E", "type": "quantitative", "axis": null},
            "y": {"field": "y", "type": "quantitative", "axis": null},
            "color": {"field": "s", "type": "nominal", "scale": {"domain": ["Becker", "Patterson", "Aguilera", "Kettner", "High & Čujec"], "range": ["#2a4a9c", "#e41f26", "#b8b83a", "#1a9a48", "#8a68b4"]}, "legend": null},
            "shape": {"field": "s", "type": "nominal", "scale": {"domain": ["Becker", "Patterson", "Aguilera", "Kettner", "High & Čujec"], "range": ["circle", "diamond", "square", "triangle-up", "triangle-down"]}, "legend": null},
            "size": {"field": "s", "type": "nominal", "scale": {"domain": ["Becker", "Patterson", "Aguilera", "Kettner", "High & Čujec"], "range": [520, 820, 480, 620, 620]}, "legend": null}
          }
        },
        {
          "data": {"name": "legA"},
          "mark": {"type": "point", "filled": false, "opacity": 1, "clip": true},
          "encoding": {
            "x": {"datum": 0, "type": "quantitative", "axis": null},
            "y": {"datum": 1, "type": "quantitative", "axis": null},
            "color": {"field": "k", "type": "nominal",
              "scale": {"domain": ["Present prediction", "+1δ: upper", "−1δ: lower", "Becker", "Patterson", "Aguilera", "Kettner", "High & Čujec"], "range": ["#000000", "#f5891f", "#b64ca8", "#2a4a9c", "#e41f26", "#b8b83a", "#1a9a48", "#8a68b4"]},
              "legend": {"orient": "none", "legendX": 61, "legendY": 32, "direction": "vertical", "title": null, "padding": 0, "offset": 0,
                "labelFont": "Liberation Serif", "labelFontSize": 42, "labelColor": "black", "labelOffset": 56, "labelLimit": 600,
                "rowPadding": -3, "symbolSize": 900}},
            "shape": {"field": "k", "type": "nominal",
              "scale": {"domain": ["Present prediction", "+1δ: upper", "−1δ: lower", "Becker", "Patterson", "Aguilera", "Kettner", "High & Čujec"],
                "range": ["M0,-1.2M0,1.2M-3.2,0H3.2", "M0,-1.2M0,1.2M-3.2,0H3.2", "M0,-1.2M0,1.2M-3.2,0H3.2",
                  "M0,-1.47V1.47M-0.8,-1.47H0.8M-0.8,1.47H0.8M0.67,0A0.67,0.67 0 1,1 -0.67,0A0.67,0.67 0 1,1 0.67,0",
                  "M0,-1.47V1.47M-0.8,-1.47H0.8M-0.8,1.47H0.8M0,-0.87L0.87,0L0,0.87L-0.87,0Z",
                  "M0,-1.47V1.47M-0.8,-1.47H0.8M-0.8,1.47H0.8M-0.6,-0.6H0.6V0.6H-0.6Z",
                  "M0,-1.47V1.47M-0.8,-1.47H0.8M-0.8,1.47H0.8M0,-0.75L0.72,0.5L-0.72,0.5Z",
                  "M0,-1.47V1.47M-0.8,-1.47H0.8M-0.8,1.47H0.8M0,0.75L0.72,-0.5L-0.72,-0.5Z"]}},
            "strokeWidth": {"field": "k", "type": "nominal",
              "scale": {"domain": ["Present prediction", "+1δ: upper", "−1δ: lower", "Becker", "Patterson", "Aguilera", "Kettner", "High & Čujec"], "range": [7, 3.8, 3.8, 3.4, 3.4, 3.4, 3.4, 3.4]}},
            "strokeDash": {"field": "k", "type": "nominal",
              "scale": {"domain": ["Present prediction", "+1δ: upper", "−1δ: lower", "Becker", "Patterson", "Aguilera", "Kettner", "High & Čujec"], "range": [[1, 0], [30, 10, 6, 10], [30, 10, 6, 10], [1, 0], [1, 0], [1, 0], [1, 0], [1, 0]]}}
          }
        },
        {
          "data": {"values": [{}]},
          "mark": {"type": "text", "text": "(a)", "font": "Liberation Serif", "fontSize": 58, "fontWeight": "bold", "align": "center", "baseline": "middle", "color": "black"},
          "encoding": {"x": {"datum": 5.988, "type": "quantitative", "axis": null}, "y": {"datum": 0.1343, "type": "quantitative", "axis": null}}
        },
        {
          "data": {"values": [{}]},
          "mark": {"type": "text", "text": "E", "font": "Liberation Serif", "fontSize": 60, "align": "left", "baseline": "alphabetic", "color": "black"},
          "encoding": {"x": {"datum": 3.336, "type": "quantitative", "axis": null}, "y": {"datum": 0.0706, "type": "quantitative", "axis": null}}
        },
        {
          "data": {"values": [{}]},
          "mark": {"type": "text", "text": "cm", "font": "Liberation Sans", "fontSize": 44, "align": "left", "baseline": "alphabetic", "color": "black"},
          "encoding": {"x": {"datum": 3.447, "type": "quantitative", "axis": null}, "y": {"datum": 0.0675, "type": "quantitative", "axis": null}}
        },
        {
          "data": {"values": [{}]},
          "mark": {"type": "text", "text": "(MeV)", "font": "Liberation Serif", "fontSize": 60, "align": "left", "baseline": "alphabetic", "color": "black"},
          "encoding": {"x": {"datum": 3.691, "type": "quantitative", "axis": null}, "y": {"datum": 0.0706, "type": "quantitative", "axis": null}}
        },
        {
          "data": {"values": [{}]},
          "mark": {"type": "text", "text": "R", "font": "Liberation Serif", "fontSize": 60, "angle": 270, "align": "left", "baseline": "alphabetic", "color": "black"},
          "encoding": {"x": {"datum": 0.616, "type": "quantitative", "axis": null}, "y": {"datum": 0.5486, "type": "quantitative", "axis": null}}
        },
        {
          "data": {"values": [{}]},
          "mark": {"type": "text", "text": "p/α", "font": "Liberation Serif", "fontSize": 40, "angle": 270, "align": "left", "baseline": "alphabetic", "color": "black"},
          "encoding": {"x": {"datum": 0.661, "type": "quantitative", "axis": null}, "y": {"datum": 0.63, "type": "quantitative", "axis": null}}
        }
      ],
      "resolve": {"axis": {"x": "independent", "y": "independent"}, "scale": {"color": "independent", "shape": "independent", "size": "independent", "strokeWidth": "independent", "strokeDash": "independent"}}
    },
    {
      "bounds": "flush",
      "spacing": 48,
      "hconcat": [
        {
          "width": 1335,
          "height": 860,
          "layer": [
            {
              "data": {"values": [{}]},
              "mark": {"type": "rect", "color": "#ededed"},
              "encoding": {
                "x": {"datum": 2.5, "type": "quantitative", "scale": {"domain": [2.5, 6.5], "nice": false, "zero": false},
                  "axis": {"orient": "bottom", "values": [2.5, 3, 3.5, 4, 4.5, 5, 5.5, 6, 6.5], "format": ".1f", "ticks": false, "domain": false, "grid": false, "title": null, "labelFont": "DejaVu Serif", "labelFontSize": 36, "labelPadding": 11, "labelColor": "black", "labelFlush": false, "labelOverlap": false}},
                "x2": {"datum": 6.5},
                "y": {"datum": 0.71, "type": "quantitative", "scale": {"type": "log", "domain": [0.2, 6], "nice": false},
                  "axis": {"orient": "left", "values": [0.2, 0.4, 0.6, 0.8, 1, 1.5, 2, 3, 4], "format": ".1f", "ticks": false, "domain": false, "grid": false, "title": null, "labelFont": "DejaVu Serif", "labelFontSize": 36, "labelPadding": 10, "labelColor": "black", "labelFlush": false, "labelOverlap": false}},
                "y2": {"datum": 1.41}
              }
            },
            {
              "data": {"name": "statB"},
              "mark": {"type": "rule", "color": "#b0b0b0", "strokeWidth": 4, "strokeDash": [4, 5]},
              "encoding": {
                "x": {"field": "E", "type": "quantitative",
                  "axis": {"orient": "top", "offset": -860, "values": [2.5,2.6,2.7,2.8,2.9,3,3.1,3.2,3.3,3.4,3.5,3.6,3.7,3.8,3.9,4,4.1,4.2,4.3,4.4,4.5,4.6,4.7,4.8,4.9,5,5.1,5.2,5.3,5.4,5.5,5.6,5.7,5.8,5.9,6,6.1,6.2,6.3,6.4,6.5], "labels": false, "domain": false, "grid": false, "title": null, "tickColor": "black", "tickWidth": 2.5, "tickSize": {"condition": {"test": "abs(datum.value * 2 - round(datum.value * 2)) < 0.01", "value": 22}, "value": 12}}}
              }
            },
            {
              "data": {"name": "linesB"},
              "mark": {"type": "line", "strokeWidth": 3.5, "strokeDash": [30, 10, 6, 10]},
              "encoding": {
                "x": {"field": "E", "type": "quantitative",
                  "axis": {"orient": "bottom", "offset": -860, "values": [2.5,2.6,2.7,2.8,2.9,3,3.1,3.2,3.3,3.4,3.5,3.6,3.7,3.8,3.9,4,4.1,4.2,4.3,4.4,4.5,4.6,4.7,4.8,4.9,5,5.1,5.2,5.3,5.4,5.5,5.6,5.7,5.8,5.9,6,6.1,6.2,6.3,6.4,6.5], "labels": false, "domain": false, "grid": false, "title": null, "tickColor": "black", "tickWidth": 2.5, "tickSize": {"condition": {"test": "abs(datum.value * 2 - round(datum.value * 2)) < 0.01", "value": 22}, "value": 12}}},
                "y": {"field": "R", "type": "quantitative",
                  "axis": {"orient": "right", "offset": -1335, "values": [0.2,0.3,0.4,0.5,0.6,0.7,0.8,0.9,1,1.5,2,3,4,5], "labels": false, "domain": false, "grid": false, "title": null, "tickColor": "black", "tickWidth": 2.5, "tickSize": {"condition": {"test": "indexof([0.2,0.4,0.6,0.8,1,1.5,2,3,4], datum.value) >= 0", "value": 25}, "value": 14}}},
                "color": {"field": "s", "type": "nominal", "scale": {"domain": ["+1δ", "−1δ"], "range": ["#f5891f", "#b64ca8"]}, "legend": null}
              }
            },
            {
              "data": {"values": [{}]},
              "mark": {"type": "rule", "color": "black", "strokeWidth": 3.5},
              "encoding": {"y": {"datum": 1, "type": "quantitative", "axis": null}}
            },
            {
              "data": {"name": "pts"},
              "transform": [{"filter": "isValid(datum.R)"}],
              "mark": {"type": "rule", "strokeWidth": 3.6, "clip": true},
              "encoding": {
                "x": {"field": "E", "type": "quantitative", "axis": null},
                "y": {"field": "Rl", "type": "quantitative",
                  "axis": {"orient": "left", "offset": -1335, "values": [0.2,0.3,0.4,0.5,0.6,0.7,0.8,0.9,1,1.5,2,3,4,5], "labels": false, "domain": false, "grid": false, "title": null, "tickColor": "black", "tickWidth": 2.5, "tickSize": {"condition": {"test": "indexof([0.2,0.4,0.6,0.8,1,1.5,2,3,4], datum.value) >= 0", "value": 25}, "value": 14}}},
                "y2": {"field": "Rh"},
                "color": {"field": "s", "type": "nominal", "scale": {"domain": ["Becker", "Patterson", "Aguilera", "Kettner", "High & Čujec"], "range": ["#2a4a9c", "#e41f26", "#b8b83a", "#1a9a48", "#8a68b4"]}, "legend": null}
              }
            },
            {
              "data": {"name": "pts"},
              "transform": [{"filter": "isValid(datum.R)"}],
              "mark": {"type": "tick", "orient": "horizontal", "size": 25, "thickness": 3.6, "opacity": 1, "clip": true},
              "encoding": {
                "x": {"field": "E", "type": "quantitative", "axis": null},
                "y": {"field": "Rl", "type": "quantitative", "axis": null},
                "color": {"field": "s", "type": "nominal", "scale": {"domain": ["Becker", "Patterson", "Aguilera", "Kettner", "High & Čujec"], "range": ["#2a4a9c", "#e41f26", "#b8b83a", "#1a9a48", "#8a68b4"]}, "legend": null}
              }
            },
            {
              "data": {"name": "pts"},
              "transform": [{"filter": "isValid(datum.R)"}],
              "mark": {"type": "tick", "orient": "horizontal", "size": 25, "thickness": 3.6, "opacity": 1, "clip": true},
              "encoding": {
                "x": {"field": "E", "type": "quantitative", "axis": null},
                "y": {"field": "Rh", "type": "quantitative", "axis": null},
                "color": {"field": "s", "type": "nominal", "scale": {"domain": ["Becker", "Patterson", "Aguilera", "Kettner", "High & Čujec"], "range": ["#2a4a9c", "#e41f26", "#b8b83a", "#1a9a48", "#8a68b4"]}, "legend": null}
              }
            },
            {
              "data": {"name": "pts"},
              "transform": [{"filter": "isValid(datum.R)"}],
              "mark": {"type": "point", "filled": false, "strokeWidth": 3.6, "opacity": 1, "clip": true},
              "encoding": {
                "x": {"field": "E", "type": "quantitative", "axis": null},
                "y": {"field": "R", "type": "quantitative", "axis": null},
                "color": {"field": "s", "type": "nominal", "scale": {"domain": ["Becker", "Patterson", "Aguilera", "Kettner", "High & Čujec"], "range": ["#2a4a9c", "#e41f26", "#b8b83a", "#1a9a48", "#8a68b4"]}, "legend": null},
                "shape": {"field": "s", "type": "nominal", "scale": {"domain": ["Becker", "Patterson", "Aguilera", "Kettner", "High & Čujec"], "range": ["circle", "diamond", "square", "triangle-up", "triangle-down"]}, "legend": null},
                "size": {"field": "s", "type": "nominal", "scale": {"domain": ["Becker", "Patterson", "Aguilera", "Kettner", "High & Čujec"], "range": [520, 820, 480, 620, 620]}, "legend": null}
              }
            },
            {
              "data": {"name": "legB"},
              "mark": {"type": "point", "filled": false, "opacity": 1, "clip": true},
              "encoding": {
                "x": {"datum": 0, "type": "quantitative", "axis": null},
                "y": {"datum": 1, "type": "quantitative", "axis": null},
                "color": {"field": "k", "type": "nominal",
                  "scale": {"domain": ["+1δ", "−1δ", "Becker", "Patterson", "Aguilera", "Kettner", "High & Čujec"], "range": ["#f5891f", "#b64ca8", "#2a4a9c", "#e41f26", "#b8b83a", "#1a9a48", "#8a68b4"]},
                  "legend": {"orient": "none", "legendX": 655, "legendY": 34, "direction": "vertical", "columns": 2, "columnPadding": 97, "title": null, "padding": 0, "offset": 0,
                    "labelFont": "DejaVu Serif", "labelFontSize": 30, "labelColor": "black", "labelOffset": 57, "labelLimit": 600,
                    "rowPadding": -4, "symbolSize": 900}},
                "shape": {"field": "k", "type": "nominal",
                  "scale": {"domain": ["+1δ", "−1δ", "Becker", "Patterson", "Aguilera", "Kettner", "High & Čujec"],
                    "range": ["M0,-1.5M0,1.5M-2.6,0H2.6",
                      "M0,-1.5M0,1.5M-2.6,0H2.6",
                      "M0,-1.47V1.47M-0.8,-1.47H0.8M-0.8,1.47H0.8M0.67,0A0.67,0.67 0 1,1 -0.67,0A0.67,0.67 0 1,1 0.67,0",
                      "M0,-1.47V1.47M-0.8,-1.47H0.8M-0.8,1.47H0.8M0,-0.87L0.87,0L0,0.87L-0.87,0Z",
                      "M0,-1.47V1.47M-0.8,-1.47H0.8M-0.8,1.47H0.8M-0.6,-0.6H0.6V0.6H-0.6Z",
                      "M0,-1.47V1.47M-0.8,-1.47H0.8M-0.8,1.47H0.8M0,-0.75L0.72,0.5L-0.72,0.5Z",
                      "M0,-1.47V1.47M-0.8,-1.47H0.8M-0.8,1.47H0.8M0,0.75L0.72,-0.5L-0.72,-0.5Z"]}},
                "strokeWidth": {"field": "k", "type": "nominal",
                  "scale": {"domain": ["+1δ", "−1δ", "Becker", "Patterson", "Aguilera", "Kettner", "High & Čujec"], "range": [3.5, 3.5, 3.4, 3.4, 3.4, 3.4, 3.4]}},
                "strokeDash": {"field": "k", "type": "nominal",
                  "scale": {"domain": ["+1δ", "−1δ", "Becker", "Patterson", "Aguilera", "Kettner", "High & Čujec"], "range": [[30, 10, 6, 10], [30, 10, 6, 10], [1, 0], [1, 0], [1, 0], [1, 0], [1, 0]]}}
              }
            },
            {
              "data": {"values": [{}]},
              "mark": {"type": "text", "text": "Statistics Range: 3.5 − 6.4 MeV", "font": "DejaVu Serif", "fontSize": 35, "align": "center", "baseline": "middle", "color": "black"},
              "encoding": {"x": {"datum": 4.829, "type": "quantitative", "axis": null}, "y": {"datum": 0.365, "type": "quantitative", "axis": null}}
            },
            {
              "data": {"values": [{}]},
              "mark": {"type": "text", "text": "(b)", "font": "DejaVu Serif", "fontSize": 50, "fontWeight": "bold", "align": "center", "baseline": "middle", "color": "black"},
              "encoding": {"x": {"datum": 6.105, "type": "quantitative", "axis": null}, "y": {"datum": 0.265, "type": "quantitative", "axis": null}}
            },
            {
              "data": {"values": [{}]},
              "mark": {"type": "text", "text": "E", "font": "DejaVu Serif", "fontSize": 52, "align": "left", "baseline": "alphabetic", "color": "black"},
              "encoding": {"x": {"datum": 4.093, "type": "quantitative", "axis": null}, "y": {"datum": 0.1318, "type": "quantitative", "axis": null}}
            },
            {
              "data": {"values": [{}]},
              "mark": {"type": "text", "text": "cm", "font": "Liberation Sans", "fontSize": 40, "align": "left", "baseline": "alphabetic", "color": "black"},
              "encoding": {"x": {"datum": 4.23, "type": "quantitative", "axis": null}, "y": {"datum": 0.1253, "type": "quantitative", "axis": null}}
            },
            {
              "data": {"values": [{}]},
              "mark": {"type": "text", "text": "(MeV)", "font": "DejaVu Serif", "fontSize": 50, "align": "left", "baseline": "alphabetic", "color": "black"},
              "encoding": {"x": {"datum": 4.446, "type": "quantitative", "axis": null}, "y": {"datum": 0.1318, "type": "quantitative", "axis": null}}
            },
            {
              "data": {"values": [{}]},
              "mark": {"type": "text", "text": "R", "font": "DejaVu Serif", "fontSize": 52, "angle": 270, "align": "center", "baseline": "alphabetic", "color": "black"},
              "encoding": {"x": {"datum": 2.243, "type": "quantitative", "axis": null}, "y": {"datum": 1.126, "type": "quantitative", "axis": null}}
            }
          ],
          "resolve": {"axis": {"x": "independent", "y": "independent"}, "scale": {"color": "independent", "shape": "independent", "size": "independent", "strokeWidth": "independent", "strokeDash": "independent"}}
        },
        {
          "width": 446,
          "height": 860,
          "layer": [
            {
              "data": {"name": "hist"},
              "mark": {"type": "rect", "fill": "#add8e6", "stroke": "#7d8a93", "strokeWidth": 2.5},
              "encoding": {
                "x": {"field": "n", "type": "quantitative", "scale": {"domain": [0, 28], "nice": false, "zero": false},
                  "axis": {"orient": "bottom", "values": [0, 10, 20], "format": "d", "ticks": false, "domain": false, "grid": false, "title": null, "labelFont": "DejaVu Serif", "labelFontSize": 36, "labelPadding": 11, "labelColor": "black", "labelFlush": false, "labelOverlap": false}},
                "x2": {"datum": 0},
                "y": {"field": "lo", "type": "quantitative", "scale": {"type": "log", "domain": [0.2, 6], "nice": false},
                  "axis": {"orient": "right", "offset": -446, "values": [0.2,0.3,0.4,0.5,0.6,0.7,0.8,0.9,1,1.5,2,3,4,5], "labels": false, "domain": false, "grid": false, "title": null, "tickColor": "black", "tickWidth": 2.5, "tickSize": {"condition": {"test": "indexof([0.2,0.4,0.6,0.8,1,1.5,2,3,4], datum.value) >= 0", "value": 25}, "value": 14}}},
                "y2": {"field": "hi"}
              }
            },
            {
              "data": {"name": "gaus"},
              "mark": {"type": "line", "color": "#e8262b", "strokeWidth": 5, "interpolate": "catmull-rom"},
              "encoding": {
                "x": {"field": "c", "type": "quantitative",
                  "axis": {"orient": "top", "offset": -860, "values": [0,1,2,3,4,5,6,7,8,9,10,11,12,13,14,15,16,17,18,19,20,21,22,23,24,25,26,27], "labels": false, "domain": false, "grid": false, "title": null, "tickColor": "black", "tickWidth": 2.5, "tickSize": {"condition": {"test": "datum.value % 10 === 0", "value": 22}, "value": 12}}},
                "y": {"field": "R", "type": "quantitative",
                  "axis": {"orient": "left", "offset": -446, "values": [0.2,0.3,0.4,0.5,0.6,0.7,0.8,0.9,1,1.5,2,3,4,5], "labels": false, "domain": false, "grid": false, "title": null, "tickColor": "black", "tickWidth": 2.5, "tickSize": {"condition": {"test": "indexof([0.2,0.4,0.6,0.8,1,1.5,2,3,4], datum.value) >= 0", "value": 25}, "value": 14}}},
                "order": {"field": "R", "type": "quantitative"}
              }
            },
            {
              "data": {"values": [{}]},
              "mark": {"type": "text", "text": "(c)", "font": "DejaVu Serif", "fontSize": 50, "fontWeight": "bold", "align": "center", "baseline": "middle", "color": "black"},
              "encoding": {
                "x": {"datum": 23.8, "type": "quantitative",
                  "axis": {"orient": "bottom", "offset": -860, "values": [0,1,2,3,4,5,6,7,8,9,10,11,12,13,14,15,16,17,18,19,20,21,22,23,24,25,26,27], "labels": false, "domain": false, "grid": false, "title": null, "tickColor": "black", "tickWidth": 2.5, "tickSize": {"condition": {"test": "datum.value % 10 === 0", "value": 22}, "value": 12}}},
                "y": {"datum": 0.265, "type": "quantitative", "axis": null}
              }
            },
            {
              "data": {"values": [{}]},
              "mark": {"type": "text", "text": "Counts", "font": "DejaVu Serif", "fontSize": 47, "align": "center", "baseline": "alphabetic", "color": "black"},
              "encoding": {"x": {"datum": 13.84, "type": "quantitative", "axis": null}, "y": {"datum": 0.1318, "type": "quantitative", "axis": null}}
            }
          ],
          "resolve": {"axis": {"x": "independent", "y": "independent"}}
        }
      ],
      "resolve": {"scale": {"color": "independent", "shape": "independent", "size": "independent", "x": "independent", "y": "independent"}}
    }
  ],
  "resolve": {"scale": {"color": "independent", "shape": "independent", "size": "independent", "strokeWidth": "independent", "strokeDash": "independent", "x": "independent", "y": "independent"}}
}
